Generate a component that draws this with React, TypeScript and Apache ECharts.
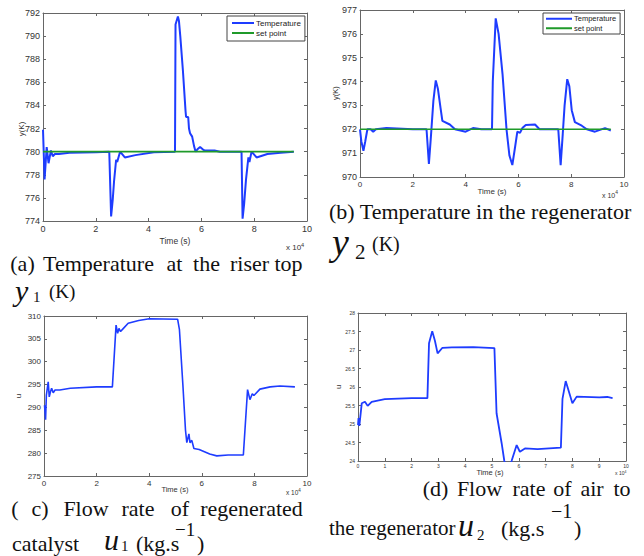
import { useEffect, useRef } from "react";
import * as echarts from "echarts";

// ---- Data (time in units of 10^4 s) ----
// (a) riser-top temperature y1 (K)
const aTime = [0, 0.06, 0.14, 0.21, 0.3, 0.37, 0.45, 0.6, 1.0, 2.0, 2.51, 2.58, 2.64, 2.69, 2.77, 2.81, 2.92, 3.1, 3.5, 4.2, 5.0, 5.02, 5.11, 5.15, 5.2, 5.3, 5.4, 5.42, 5.5, 5.53, 5.57, 5.65, 5.72, 5.78, 5.85, 5.95, 6.05, 6.13, 6.5, 6.7, 7.52, 7.56, 7.62, 7.69, 7.78, 7.82, 7.9, 8.09, 8.5, 9.0, 9.5];
const aTemp = [781.9, 777.6, 780.4, 779.0, 780.1, 779.6, 779.8, 779.8, 779.9, 779.95, 780, 774.4, 775.8, 777.4, 779.3, 779.1, 780.0, 779.5, 779.7, 779.95, 780, 791.0, 791.7, 791.3, 790.0, 787.0, 783.5, 783.0, 783.0, 782.0, 781.6, 781.3, 780.5, 780.0, 780.2, 780.4, 780.2, 780.1, 780.1, 780, 780, 774.2, 775.5, 777.6, 779.5, 779.1, 780.0, 779.5, 779.8, 779.9, 780];
const aSetTime = [0, 9.5];
const aSet = [780, 780];

// (b) regenerator temperature y2 (K)
const bTime = [0, 0.05, 0.13, 0.2, 0.28, 0.4, 0.5, 0.6, 1.0, 2.0, 2.52, 2.61, 2.68, 2.78, 2.87, 2.95, 3.05, 3.12, 3.4, 3.6, 4.0, 4.28, 4.6, 5.0, 5.03, 5.14, 5.25, 5.4, 5.55, 5.66, 5.77, 5.88, 5.96, 6.06, 6.15, 6.28, 6.63, 6.8, 7.51, 7.6, 7.68, 7.75, 7.85, 7.93, 8.02, 8.14, 8.4, 8.59, 8.9, 9.28, 9.5];
const bTemp = [972.0, 971.5, 971.1, 971.5, 972.0, 972.0, 971.9, 972.0, 972.05, 972.0, 972.0, 970.55, 971.6, 973.2, 974.05, 973.7, 972.9, 972.35, 972.2, 972.0, 971.9, 972.05, 972.0, 972.0, 974.0, 976.65, 976.0, 974.3, 972.0, 970.9, 970.5, 971.3, 971.9, 971.85, 972.05, 972.18, 972.2, 972.0, 972.0, 970.5, 971.8, 973.0, 974.1, 973.8, 972.8, 972.3, 972.15, 972.0, 971.9, 972.05, 971.95];
const bSetTime = [0, 9.5];
const bSet = [972, 972];

// (c) regenerated catalyst flow rate u1
const cTime = [0.02, 0.06, 0.09, 0.16, 0.2, 0.25, 0.29, 0.35, 0.42, 0.6, 1.0, 2.0, 2.6, 2.74, 2.8, 2.85, 2.91, 3.02, 3.2, 3.6, 4.0, 5.08, 5.15, 5.28, 5.38, 5.43, 5.51, 5.55, 5.62, 5.7, 5.9, 6.1, 6.3, 6.57, 7.0, 7.58, 7.74, 7.83, 7.92, 7.98, 8.21, 8.6, 8.97, 9.54];
const cFlow = [290.5, 287.3, 292.7, 295.6, 292.3, 293.5, 294.2, 293.2, 293.8, 293.8, 294.2, 294.5, 294.5, 308.0, 306.2, 307.3, 306.6, 307.3, 308.4, 309.0, 309.4, 309.3, 307.0, 295.0, 285.0, 282.3, 284.2, 282.3, 282.8, 281.0, 280.8, 280.3, 279.8, 279.4, 279.6, 279.6, 293.9, 291.7, 293.0, 292.6, 294.0, 294.5, 294.7, 294.5];

// (d) air flow rate to the regenerator u2
const dTime = [0, 0.02, 0.05, 0.14, 0.26, 0.36, 0.51, 1.0, 2.0, 2.59, 2.65, 2.77, 2.87, 2.97, 3.15, 3.5, 4.3, 5.09, 5.17, 5.36, 5.46, 5.55, 5.65, 5.73, 5.92, 6.04, 6.23, 6.7, 7.57, 7.63, 7.75, 8.0, 8.16, 9.0, 9.3, 9.5];
const dFlow = [24.97, 25.16, 24.95, 25.56, 25.6, 25.49, 25.6, 25.67, 25.7, 25.7, 27.18, 27.51, 27.25, 26.91, 27.06, 27.07, 27.08, 27.05, 25.29, 24.48, 24.0, 23.85, 23.85, 24.0, 24.43, 24.25, 24.34, 24.32, 24.36, 25.68, 26.16, 25.56, 25.74, 25.72, 25.73, 25.7];

const xTicksMain = 2;
const xTicksD = 1;

const pairs = (t: number[], v: number[]) => t.map((x, i) => [x, v[i]]);

const AX = "#666";
const LBL = "#333";
const SANS = "Liberation Sans, Arial, Helvetica, sans-serif";
const SERIF = "Liberation Serif, Times New Roman, serif";
const BLUE = "#1e3cff";
const GREEN = "#1f9a2a";

function xAxes(grid: number, interval: number, fs: number, margin = 3) {
  const common = {
    type: "value",
    gridIndex: grid,
    min: 0,
    max: 10,
    interval,
    axisLine: { show: true, onZero: false, lineStyle: { color: AX, width: 1 } },
    axisTick: { show: true, inside: true, length: 3, lineStyle: { color: AX } },
    splitLine: { show: false },
  };
  return [
    { ...common, position: "bottom", axisLabel: { show: true, fontSize: fs, color: LBL, fontFamily: SANS, margin } },
    { ...common, position: "top", axisLabel: { show: false } },
  ];
}

function yAxes(grid: number, min: number, max: number, interval: number, fs: number) {
  const common = {
    type: "value",
    gridIndex: grid,
    min,
    max,
    interval,
    axisLine: { show: true, onZero: false, lineStyle: { color: AX, width: 1 } },
    axisTick: { show: true, inside: true, length: 3, lineStyle: { color: AX } },
    splitLine: { show: false },
  };
  return [
    { ...common, position: "left", axisLabel: { show: true, fontSize: fs, color: LBL, fontFamily: SANS, margin: 3 } },
    { ...common, position: "right", axisLabel: { show: false } },
  ];
}

function txt(text: string, x: number, y: number, font: string, align = "left", extra: any = {}) {
  return {
    type: "text",
    x,
    y,
    style: { text, font, fill: "#111", textAlign: align, textVerticalAlign: "middle", ...extra },
  };
}

function x10(x: number, y: number, fs: number) {
  return {
    type: "text",
    x,
    y,
    style: {
      text: "x 10{s|4}",
      fontSize: fs,
      fontFamily: SANS,
      fill: LBL,
      textAlign: "left",
      textVerticalAlign: "middle",
      rich: { s: { fontSize: fs * 0.7, fontFamily: SANS, fill: LBL, padding: [0, 0, fs * 0.6, 0] } },
    },
  };
}

function vName(text: string, x: number, y: number, fs: number) {
  return {
    type: "text",
    x,
    y,
    rotation: Math.PI / 2,
    style: { text, fontSize: fs, fontFamily: SANS, fill: LBL, textAlign: "center", textVerticalAlign: "middle" },
  };
}

const cap = "22px " + SERIF;
const capI = (s: number) => "italic " + s + "px " + SERIF;

function legendAt(left: number, top: number, fs: number, itemWidth: number, pad: number[]) {
  return {
    data: [
      { name: "Temperature", icon: "rect" },
      { name: "set point", icon: "rect" },
    ],
    orient: "vertical",
    left,
    top,
    padding: pad,
    itemGap: 0,
    itemWidth,
    itemHeight: 2,
    backgroundColor: "#fff",
    borderColor: "#444",
    borderWidth: 1,
    borderRadius: 0,
    textStyle: { fontSize: fs, fontFamily: SANS, color: "#222", padding: [0, 0, 0, -3], lineHeight: fs + 2 },
  };
}

export default function App() {
  const ref = useRef<HTMLDivElement>(null);
  useEffect(() => {
    if (!ref.current) return;
    const chart = echarts.init(ref.current, undefined, { renderer: "svg" });
    const lineSeries = (name: string, g: number, data: number[][], color: string, w: number) => ({
      type: "line",
      name,
      xAxisIndex: g * 2,
      yAxisIndex: g * 2,
      data,
      symbol: "none",
      clip: true,
      lineStyle: { color, width: w },
      itemStyle: { color },
    });
    const option: any = {
      animation: false,
      backgroundColor: "#fff",
      grid: [
        { left: 43, top: 13, width: 264, height: 208 },
        { left: 360, top: 10, width: 264, height: 167 },
        { left: 44, top: 316, width: 263, height: 160 },
        { left: 358, top: 313, width: 268, height: 148 },
      ],
      xAxis: [...xAxes(0, xTicksMain, 9), ...xAxes(1, xTicksMain, 8), ...xAxes(2, xTicksMain, 8), ...xAxes(3, xTicksD, 5, 2)],
      yAxis: [...yAxes(0, 774, 792, 2, 9), ...yAxes(1, 970, 977, 1, 9), ...yAxes(2, 275, 310, 5, 8), ...yAxes(3, 24, 28, 0.5, 5)],
      legend: [legendAt(227, 16, 8, 22, [2, 4, 3, 5]), legendAt(543, 13, 7.5, 26, [1, 4, 1, 3])],
      series: [
        lineSeries("Temperature", 0, pairs(aTime, aTemp), BLUE, 2),
        lineSeries("set point", 0, pairs(aSetTime, aSet), GREEN, 1.8),
        lineSeries("Temperature", 1, pairs(bTime, bTemp), BLUE, 2),
        lineSeries("set point", 1, pairs(bSetTime, bSet), GREEN, 1.6),
        lineSeries("u1", 2, pairs(cTime, cFlow), BLUE, 1.6),
        lineSeries("u2", 3, pairs(dTime, dFlow), BLUE, 1.8),
      ],
      graphic: [
        // axis names
        vName("y(K)", 21, 129, 8),
        vName("y(K)", 335, 93, 7.5),
        vName("u", 18, 396, 8),
        vName("u", 338, 387, 7.5),
        txt("Time (s)", 175, 241, "8.5px " + SANS, "center", { fill: LBL }),
        txt("Time (s)", 492, 191, "8px " + SANS, "center", { fill: LBL }),
        txt("Time (s)", 175, 489, "7.5px " + SANS, "center", { fill: LBL }),
        txt("Time (s)", 490, 472, "7.5px " + SANS, "center", { fill: LBL }),
        x10(286, 247, 8),
        x10(602, 195, 7),
        x10(286, 492, 6.5),
        x10(615, 473, 5),
        // caption (a)
        txt("(a)", 22.5, 263, cap, "center"),
        txt("Temperature", 98.5, 263, cap, "center"),
        txt("at", 174.5, 263, cap, "center"),
        txt("the", 206.5, 263, cap, "center"),
        txt("riser", 249.5, 263, cap, "center"),
        txt("top", 288.5, 263, cap, "center"),
        txt("y", 15, 290, capI(30)),
        txt("1", 33, 297, "15px " + SERIF),
        txt("(K)", 49, 291, "19px " + SERIF),
        // caption (b)
        txt("(b) Temperature in the regenerator", 329, 211, cap),
        txt("y", 332, 242, capI(38)),
        txt("2", 355, 252, "21px " + SERIF),
        txt("(K)", 372, 244, "20px " + SERIF),
        // caption (c)
        txt("(", 15, 508, cap, "center"),
        txt("c)", 40, 508, cap, "center"),
        txt("Flow", 86, 508, cap, "center"),
        txt("rate", 138, 508, cap, "center"),
        txt("of", 180, 508, cap, "center"),
        txt("regenerated", 251.5, 508, cap, "center"),
        txt("catalyst", 12, 543, cap),
        txt("u", 104, 539, capI(30)),
        txt("1", 121, 546, "15px " + SERIF),
        txt("(kg.s", 136, 543, cap),
        txt("\u22121", 175, 529, "19px " + SERIF),
        txt(")", 197, 543, cap),
        // caption (d)
        txt("(d)", 435.5, 488, cap, "center"),
        txt("Flow", 479.5, 488, cap, "center"),
        txt("rate", 529, 488, cap, "center"),
        txt("of", 562.5, 488, cap, "center"),
        txt("air", 592, 488, cap, "center"),
        txt("to", 622, 488, cap, "center"),
        txt("the regenerator", 329, 528, "21px " + SERIF),
        txt("u", 458, 525, capI(32)),
        txt("2", 477, 535, "15px " + SERIF),
        txt("(kg.s", 501, 528, cap),
        txt("\u22121", 551, 511, "20px " + SERIF),
        txt(")", 574, 528, cap),
      ],
    };
    chart.setOption(option);
    return () => chart.dispose();
  }, []);
  return (
    <div
      ref={ref}
      style={{ position: "absolute", left: 0, top: 0, width: 644, height: 556, background: "#fff" }}
    />
  );
}
